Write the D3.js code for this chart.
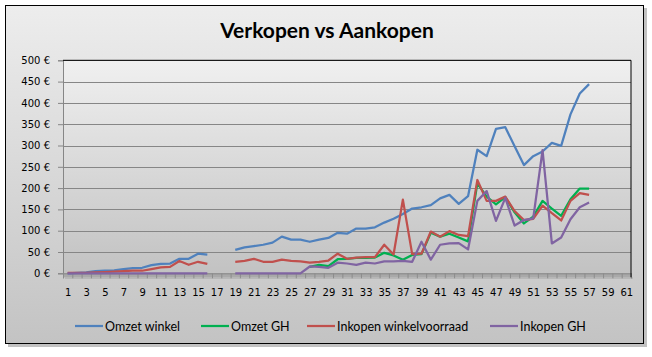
<!DOCTYPE html>
<html><head><meta charset="utf-8">
<script src="https://cdn.jsdelivr.net/npm/d3@7"></script>
<style>html,body{margin:0;padding:0;background:#fff;}svg{display:block;}</style>
</head><body>
<svg id="c" width="652" height="357"></svg>
<script>
const categories = d3.range(1, 62);
const xTickLabels = d3.range(1, 62, 2);
const yTicks = d3.range(0, 501, 50);
const seriesNames = ["Omzet winkel", "Omzet GH", "Inkopen winkelvoorraad", "Inkopen GH"];
const seriesColors = ["#4F81BD", "#00B050", "#C0504D", "#8064A2"];
const N = null;
const omzetWinkel = [0,1,2,5,6,7,10,12,13,19,22,23,34,34,46,44,N,N,55,61,64,67,72,86,79,79,74,79,83,95,93,105,105,108,119,128,139,152,155,160,176,184,163,181,290,275,339,343,298,254,275,286,306,299,373,422,444,N,N,N,N];
const omzetGH = [N,N,N,N,N,N,N,N,N,N,N,N,N,N,N,N,N,N,N,N,N,N,N,N,N,N,15,20,17,33,34,36,36,37,48,42,32,43,45,95,86,93,84,75,211,180,162,179,143,117,133,170,152,135,174,199,199,N,N,N,N];
const inkopenWinkel = [1,1,1,2,3,4,5,6,6,10,14,15,29,20,27,22,N,N,27,29,34,27,27,32,29,28,25,27,30,46,34,37,38,38,67,44,173,45,46,98,86,99,90,87,219,170,170,180,146,125,128,159,141,124,170,188,184,N,N,N,N];
const inkopenGH = [0,0,0,0,0,0,0,0,0,0,0,0,0,0,0,0,N,N,0,0,0,0,0,0,0,0,16,15,13,25,23,20,25,23,28,28,29,27,74,32,67,70,71,56,170,193,123,177,112,125,129,289,70,84,127,155,166,N,N,N,N];
const seriesValues = [omzetWinkel, omzetGH, inkopenWinkel, inkopenGH];

const svg = d3.select("#c");
const defs = svg.append("defs");
const g1 = defs.append("linearGradient").attr("id","bg").attr("x1",0).attr("y1",0).attr("x2",0).attr("y2",1);
g1.append("stop").attr("offset","0%").attr("stop-color","#ededed");
g1.append("stop").attr("offset","100%").attr("stop-color","#c3c3c3");
const g2 = defs.append("linearGradient").attr("id","pbg").attr("x1",0).attr("y1",0).attr("x2",0).attr("y2",1);
g2.append("stop").attr("offset","0%").attr("stop-color","#f0f0f0");
g2.append("stop").attr("offset","100%").attr("stop-color","#c2c2c2");

// outer chart frame with shadow
svg.append("rect").attr("x",8).attr("y",8).attr("width",639).attr("height",339).attr("fill","#9a9a9a").attr("opacity",0.6);
svg.append("rect").attr("x",5.5).attr("y",5.5).attr("width",638).attr("height",338).attr("fill","url(#bg)").attr("stroke","#000").attr("stroke-width",1);

// title
svg.append("text").attr("x",327).attr("y",38).attr("text-anchor","middle")
  .attr("font-family","Lato, 'Open Sans', sans-serif").attr("font-weight","bold").attr("font-size",21)
  .attr("fill","#000").text("Verkopen vs Aankopen");

const L = 63, R = 631, T = 60.3, B = 273.3;
const x = d3.scaleLinear().domain([0.5, 61.5]).range([L, R]);
const y = d3.scaleLinear().domain([0, 500]).range([B, T]);

// plot area
svg.append("rect").attr("x",L).attr("y",T).attr("width",R-L).attr("height",B-T).attr("fill","url(#pbg)");
// floor band
svg.append("rect").attr("x",L).attr("y",B).attr("width",R-L).attr("height",4).attr("fill","#a9a9a9");
svg.append("rect").attr("x",L+2).attr("y",B+4).attr("width",R-L).attr("height",1.5).attr("fill","#b3b3b3");

// gridlines
svg.append("g").selectAll("line").data(yTicks.filter(v=>v>0)).join("line")
  .attr("x1",L).attr("x2",R).attr("y1",d=>Math.round(y(d))+0.5).attr("y2",d=>Math.round(y(d))+0.5)
  .attr("stroke","#868686").attr("stroke-width",1);

// y axis
const ya = svg.append("g").attr("transform",`translate(${L},0)`)
  .call(d3.axisLeft(y).tickValues(yTicks).tickSize(5).tickPadding(8).tickFormat(d=>d+" €"));
ya.select(".domain").attr("stroke","#868686");
ya.selectAll(".tick line").attr("stroke","#868686");
ya.selectAll("text").attr("font-family","'DejaVu Sans', Verdana, sans-serif").attr("font-size",10).attr("fill","#000");

// x axis ticks at category boundaries
const xb = svg.append("g").attr("transform",`translate(0,${B})`)
  .call(d3.axisBottom(x).tickValues(d3.range(0.5, 62, 1)).tickSize(5).tickFormat(""));
xb.select(".domain").attr("stroke","#868686");
xb.selectAll(".tick line").attr("stroke","#8c8c8c");
// x labels
const xl = svg.append("g").attr("transform",`translate(0,${B})`)
  .call(d3.axisBottom(x).tickValues(xTickLabels).tickSize(0).tickPadding(16).tickFormat(d3.format("d")));
xl.select(".domain").remove();
xl.selectAll("text").attr("font-family","'DejaVu Sans', Verdana, sans-serif").attr("font-size",10).attr("fill","#000");

// plot border top/right
svg.append("path").attr("d",`M${L},${T}H${R}V${B+4}`).attr("fill","none").attr("stroke","#000").attr("stroke-width",1);

// lines
const line = d3.line().defined(d=>d.v!=null).x(d=>x(d.c)).y(d=>y(d.v));
seriesValues.forEach((vals,i)=>{
  const data = categories.map((c,k)=>({c, v: vals[k]}));
  svg.append("path").datum(data).attr("d",line).attr("fill","none")
    .attr("stroke",seriesColors[i]).attr("stroke-width",2.25).attr("stroke-linejoin","round");
});

// legend
const legX = [75, 201, 307, 490];
const lg = svg.append("g");
seriesNames.forEach((n,i)=>{
  lg.append("line").attr("x1",legX[i]).attr("x2",legX[i]+28).attr("y1",326).attr("y2",326)
    .attr("stroke",seriesColors[i]).attr("stroke-width",2.25);
  lg.append("text").attr("x",legX[i]+30).attr("y",330.5).attr("font-family","Lato, 'Open Sans', sans-serif")
    .attr("font-size",12.5).attr("fill","#000").text(n);
});
</script>
</body></html>
